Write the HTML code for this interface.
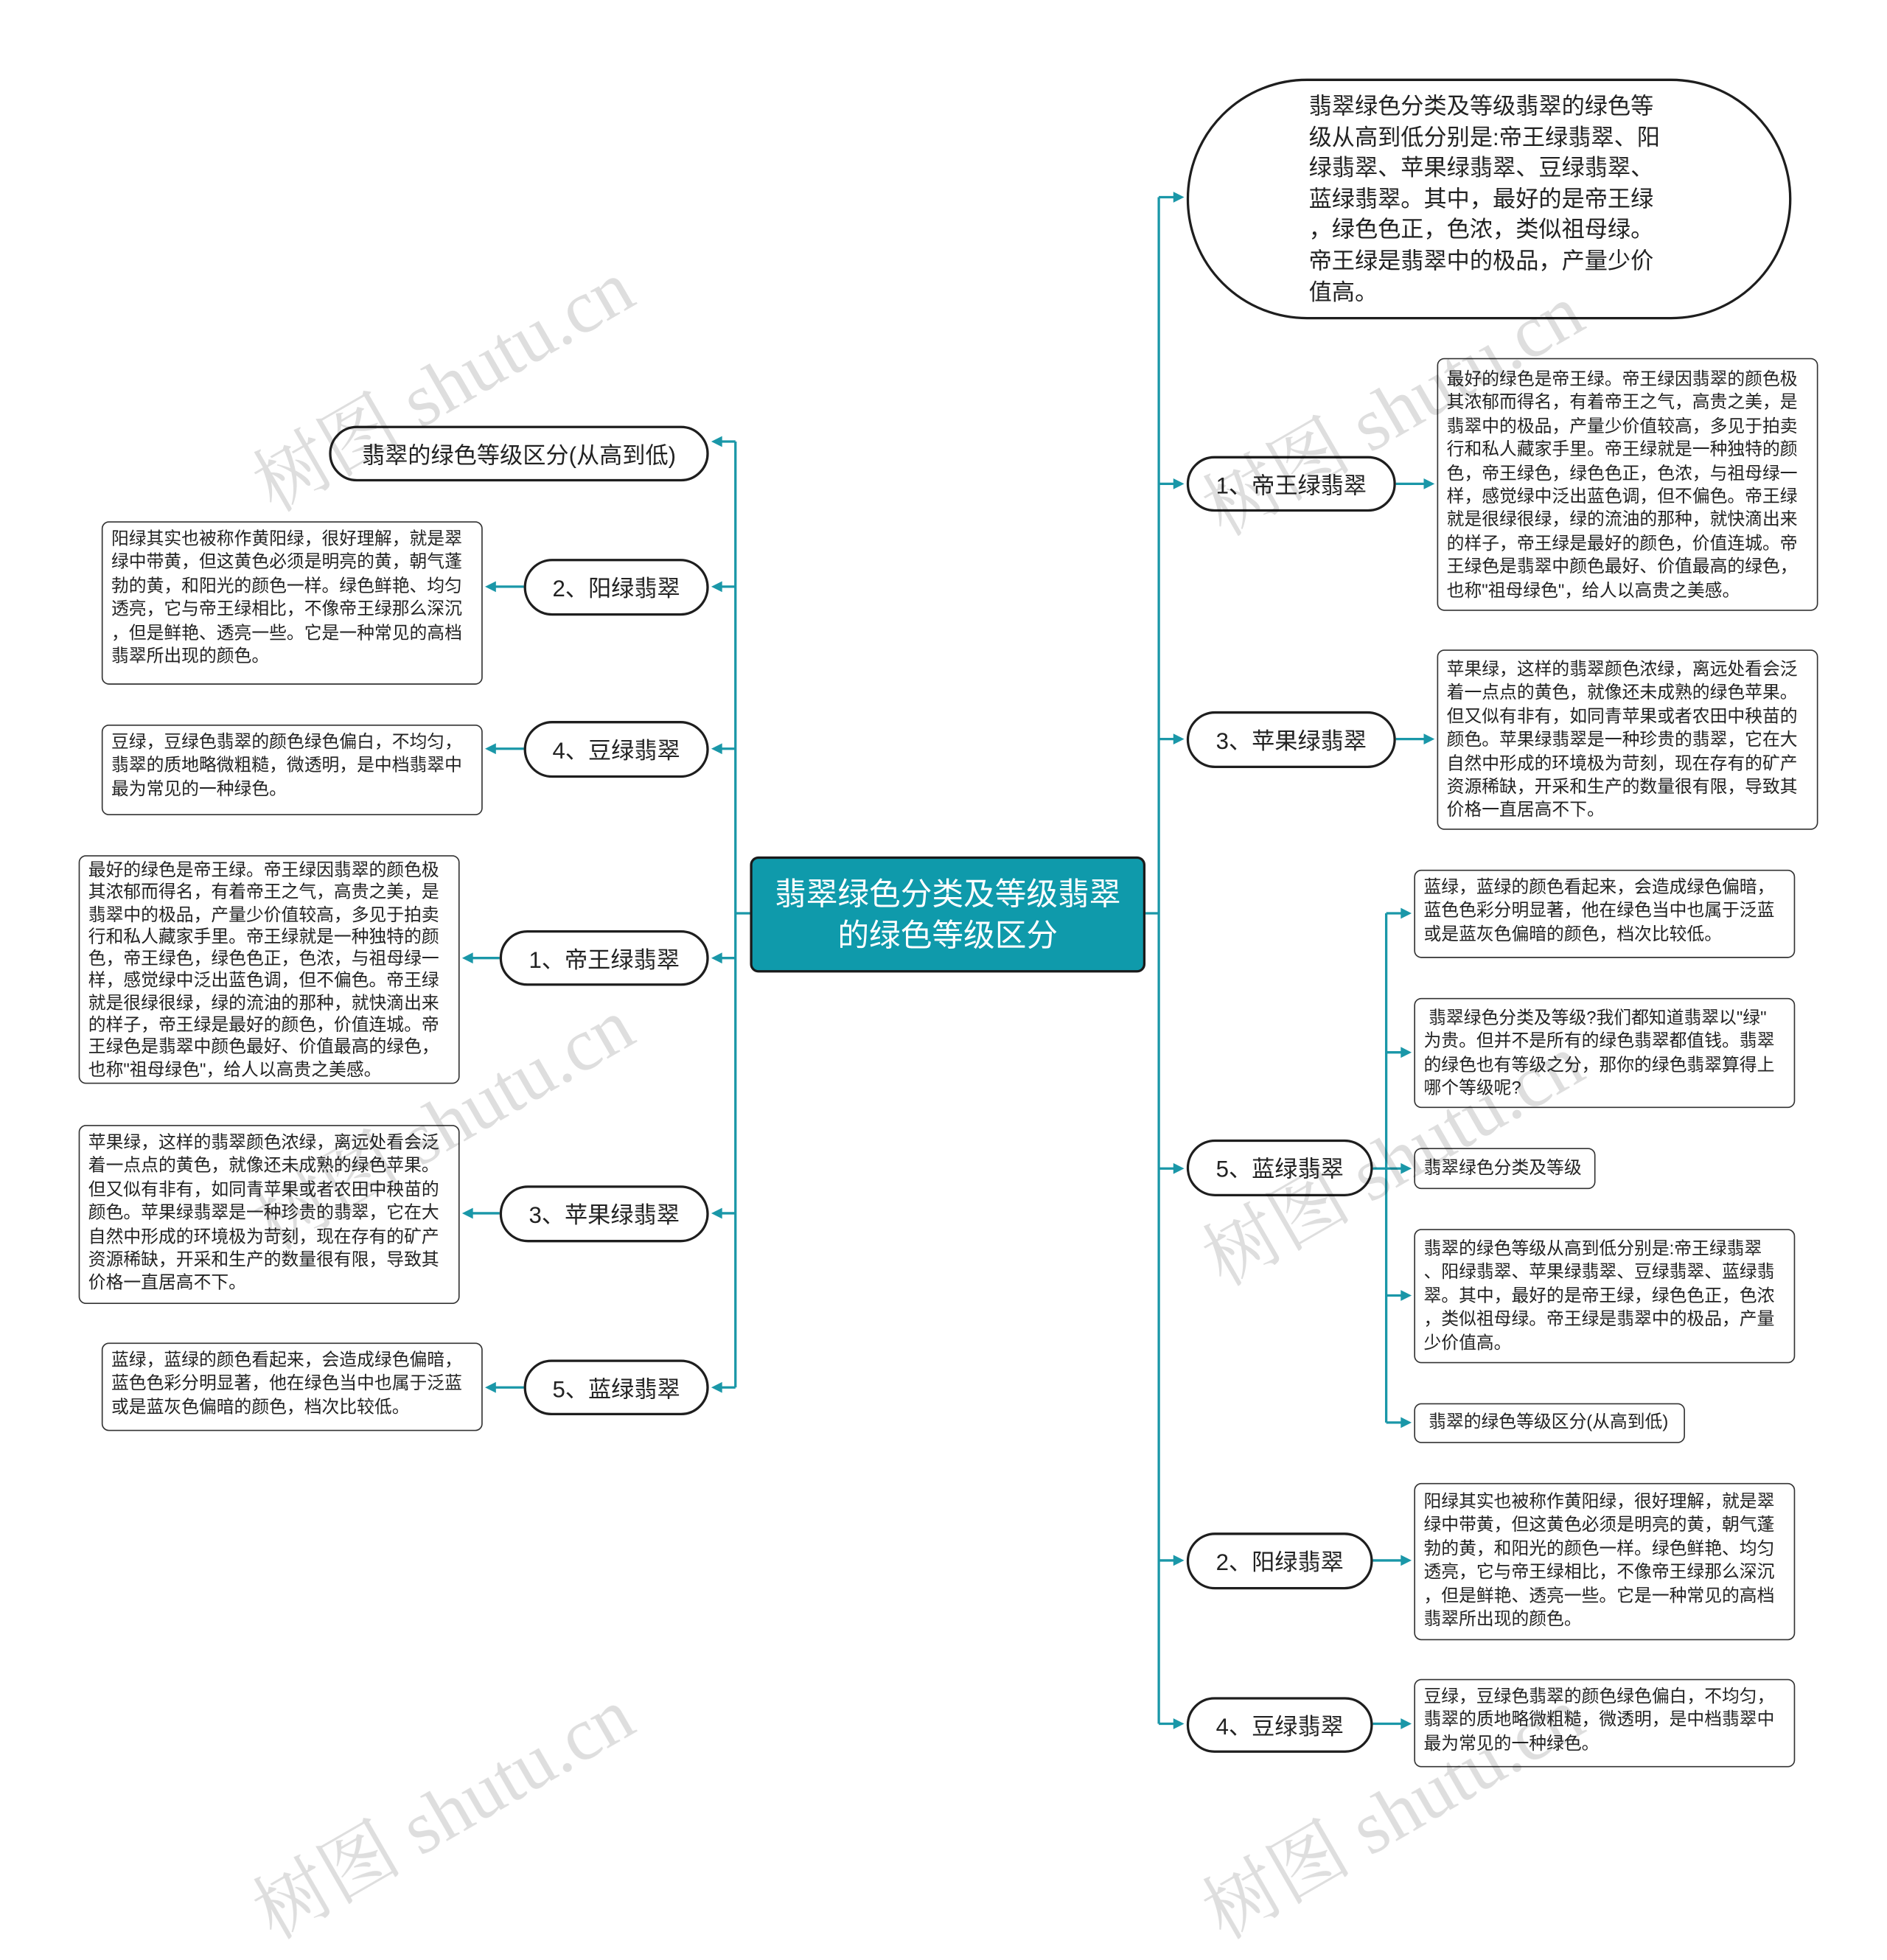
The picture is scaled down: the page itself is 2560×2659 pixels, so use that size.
<!DOCTYPE html>
<html><head><meta charset="utf-8">
<style>
html,body{margin:0;padding:0;background:#fff;}
body{width:2560px;height:2491px;overflow:hidden;position:relative;}
#c{position:absolute;left:0;top:0;width:1560px;height:1518px;transform:scale(1.641026);transform-origin:0 0;font-family:"Liberation Sans","Noto Sans CJK SC",sans-serif;color:#222;}
.pill{position:absolute;box-sizing:border-box;border:2.5px solid #1e1e1e;border-radius:30px;background:#fff;display:flex;align-items:center;justify-content:center;font-size:19px;white-space:nowrap;}
.box{position:absolute;box-sizing:border-box;border:1.2px solid #333;border-radius:6px;background:#fff;font-size:14.5px;line-height:19.4px;padding:5px 0 0 7px;white-space:nowrap;overflow:hidden;}
.root{position:absolute;left:620px;top:708px;width:327px;height:96px;box-sizing:border-box;border:2.5px solid #1a1a1a;border-radius:7px;background:#0f9aab;color:#fff;font-size:26px;line-height:34px;text-align:center;padding-top:12px;}
.big{position:absolute;left:981px;top:65px;width:500px;height:199px;box-sizing:border-box;border:2.5px solid #1e1e1e;border-radius:100px;background:#fff;font-size:19px;line-height:25.6px;padding:9px 0 0 99px;white-space:nowrap;}
.wm{position:absolute;font-family:"Liberation Serif","Noto Serif CJK SC",serif;font-size:62px;color:rgba(0,0,0,0.13);transform:rotate(-30deg);white-space:nowrap;transform-origin:center;}
svg{position:absolute;left:0;top:0;}
</style></head><body>
<div id="c">
<svg width="1560" height="1518" viewBox="0 0 1560 1518">
<g stroke="#1a97a8" stroke-width="2" fill="none">
<path d="M620 755 H608 M608 365 V1147 M608 365 H594 M608 485 H594 M608 619 H594 M608 792 H594 M608 1003 H594 M608 1147 H594"/>
<path d="M433 485 H405 M433 619 H405 M413 792 H386 M413 1003 H386 M433 1147 H405"/>
<path d="M947 755 H958 M958 163 V1425 M958 163 H972 M958 400 H972 M958 611 H972 M958 966 H972 M958 1290 H972 M958 1425 H972"/>
<path d="M1154 400 H1180 M1154 611 H1180 M1135 1290 H1160 M1135 1425 H1160"/>
<path d="M1135 966 H1146 M1146 755 V1176 M1146 755 H1160 M1146 870 H1160 M1146 966 H1160 M1146 1071 H1160 M1146 1176 H1160"/>
</g>
<g fill="#1a97a8">
<path d="M588 365 l9 -4.5 v9z"/><path d="M588 485 l9 -4.5 v9z"/><path d="M588 619 l9 -4.5 v9z"/><path d="M588 792 l9 -4.5 v9z"/><path d="M588 1003 l9 -4.5 v9z"/><path d="M588 1147 l9 -4.5 v9z"/>
<path d="M401 485 l9 -4.5 v9z"/><path d="M401 619 l9 -4.5 v9z"/><path d="M382 792 l9 -4.5 v9z"/><path d="M382 1003 l9 -4.5 v9z"/><path d="M401 1147 l9 -4.5 v9z"/>
<path d="M979 163 l-9 -4.5 v9z"/><path d="M979 400 l-9 -4.5 v9z"/><path d="M979 611 l-9 -4.5 v9z"/><path d="M979 966 l-9 -4.5 v9z"/><path d="M979 1290 l-9 -4.5 v9z"/><path d="M979 1425 l-9 -4.5 v9z"/>
<path d="M1186 400 l-9 -4.5 v9z"/><path d="M1186 611 l-9 -4.5 v9z"/><path d="M1167 1290 l-9 -4.5 v9z"/><path d="M1167 1425 l-9 -4.5 v9z"/>
<path d="M1167 755 l-9 -4.5 v9z"/><path d="M1167 870 l-9 -4.5 v9z"/><path d="M1167 966 l-9 -4.5 v9z"/><path d="M1167 1071 l-9 -4.5 v9z"/><path d="M1167 1176 l-9 -4.5 v9z"/>
</g>
</svg>

<div class="root">翡翠绿色分类及等级翡翠<br>的绿色等级区分</div>

<div class="pill" style="left:272px;top:352px;width:314px;height:46px;">翡翠的绿色等级区分(从高到低)</div>
<div class="pill" style="left:433px;top:462px;width:153px;height:47px;">2、阳绿翡翠</div>
<div class="box" style="left:84px;top:431px;width:315px;height:135px;">阳绿其实也被称作黄阳绿，很好理解，就是翠<br>绿中带黄，但这黄色必须是明亮的黄，朝气蓬<br>勃的黄，和阳光的颜色一样。绿色鲜艳、均匀<br>透亮，它与帝王绿相比，不像帝王绿那么深沉<br>，但是鲜艳、透亮一些。它是一种常见的高档<br>翡翠所出现的颜色。</div>
<div class="pill" style="left:433px;top:596px;width:153px;height:47px;">4、豆绿翡翠</div>
<div class="box" style="left:84px;top:599px;width:315px;height:75px;">豆绿，豆绿色翡翠的颜色绿色偏白，不均匀，<br>翡翠的质地略微粗糙，微透明，是中档翡翠中<br>最为常见的一种绿色。</div>
<div class="pill" style="left:413px;top:769px;width:173px;height:46px;">1、帝王绿翡翠</div>
<div class="box" style="left:65px;top:707px;width:315px;height:189px;line-height:18.3px;padding-top:3px;">最好的绿色是帝王绿。帝王绿因翡翠的颜色极<br>其浓郁而得名，有着帝王之气，高贵之美，是<br>翡翠中的极品，产量少价值较高，多见于拍卖<br>行和私人藏家手里。帝王绿就是一种独特的颜<br>色，帝王绿色，绿色色正，色浓，与祖母绿一<br>样，感觉绿中泛出蓝色调，但不偏色。帝王绿<br>就是很绿很绿，绿的流油的那种，就快滴出来<br>的样子，帝王绿是最好的颜色，价值连城。帝<br>王绿色是翡翠中颜色最好、价值最高的绿色，<br>也称"祖母绿色"，给人以高贵之美感。</div>
<div class="pill" style="left:413px;top:980px;width:173px;height:47px;">3、苹果绿翡翠</div>
<div class="box" style="left:65px;top:930px;width:315px;height:148px;">苹果绿，这样的翡翠颜色浓绿，离远处看会泛<br>着一点点的黄色，就像还未成熟的绿色苹果。<br>但又似有非有，如同青苹果或者农田中秧苗的<br>颜色。苹果绿翡翠是一种珍贵的翡翠，它在大<br>自然中形成的环境极为苛刻，现在存有的矿产<br>资源稀缺，开采和生产的数量很有限，导致其<br>价格一直居高不下。</div>
<div class="pill" style="left:433px;top:1124px;width:153px;height:46px;">5、蓝绿翡翠</div>
<div class="box" style="left:84px;top:1110px;width:315px;height:73px;">蓝绿，蓝绿的颜色看起来，会造成绿色偏暗，<br>蓝色色彩分明显著，他在绿色当中也属于泛蓝<br>或是蓝灰色偏暗的颜色，档次比较低。</div>

<div class="big">翡翠绿色分类及等级翡翠的绿色等<br>级从高到低分别是:帝王绿翡翠、阳<br>绿翡翠、苹果绿翡翠、豆绿翡翠、<br>蓝绿翡翠。其中，最好的是帝王绿<br>，绿色色正，色浓，类似祖母绿。<br>帝王绿是翡翠中的极品，产量少价<br>值高。</div>
<div class="pill" style="left:981px;top:377px;width:173px;height:46px;">1、帝王绿翡翠</div>
<div class="box" style="left:1188px;top:296px;width:315px;height:209px;padding-top:8px;">最好的绿色是帝王绿。帝王绿因翡翠的颜色极<br>其浓郁而得名，有着帝王之气，高贵之美，是<br>翡翠中的极品，产量少价值较高，多见于拍卖<br>行和私人藏家手里。帝王绿就是一种独特的颜<br>色，帝王绿色，绿色色正，色浓，与祖母绿一<br>样，感觉绿中泛出蓝色调，但不偏色。帝王绿<br>就是很绿很绿，绿的流油的那种，就快滴出来<br>的样子，帝王绿是最好的颜色，价值连城。帝<br>王绿色是翡翠中颜色最好、价值最高的绿色，<br>也称"祖母绿色"，给人以高贵之美感。</div>
<div class="pill" style="left:981px;top:588px;width:173px;height:47px;">3、苹果绿翡翠</div>
<div class="box" style="left:1188px;top:537px;width:315px;height:149px;padding-top:7px;">苹果绿，这样的翡翠颜色浓绿，离远处看会泛<br>着一点点的黄色，就像还未成熟的绿色苹果。<br>但又似有非有，如同青苹果或者农田中秧苗的<br>颜色。苹果绿翡翠是一种珍贵的翡翠，它在大<br>自然中形成的环境极为苛刻，现在存有的矿产<br>资源稀缺，开采和生产的数量很有限，导致其<br>价格一直居高不下。</div>
<div class="pill" style="left:981px;top:942px;width:154px;height:47px;">5、蓝绿翡翠</div>
<div class="box" style="left:1169px;top:719px;width:315px;height:73px;">蓝绿，蓝绿的颜色看起来，会造成绿色偏暗，<br>蓝色色彩分明显著，他在绿色当中也属于泛蓝<br>或是蓝灰色偏暗的颜色，档次比较低。</div>
<div class="box" style="left:1169px;top:825px;width:315px;height:91px;padding-top:7px;">&nbsp;翡翠绿色分类及等级?我们都知道翡翠以"绿"<br>为贵。但并不是所有的绿色翡翠都值钱。翡翠<br>的绿色也有等级之分，那你的绿色翡翠算得上<br>哪个等级呢?</div>
<div class="box" style="left:1169px;top:949px;width:150px;height:34px;padding-top:7px;">翡翠绿色分类及等级</div>
<div class="box" style="left:1169px;top:1016px;width:315px;height:111px;padding-top:7px;">翡翠的绿色等级从高到低分别是:帝王绿翡翠<br>、阳绿翡翠、苹果绿翡翠、豆绿翡翠、蓝绿翡<br>翠。其中，最好的是帝王绿，绿色色正，色浓<br>，类似祖母绿。帝王绿是翡翠中的极品，产量<br>少价值高。</div>
<div class="box" style="left:1169px;top:1160px;width:224px;height:33px;padding-top:6px;">&nbsp;翡翠的绿色等级区分(从高到低)</div>
<div class="pill" style="left:981px;top:1267px;width:154px;height:47px;">2、阳绿翡翠</div>
<div class="box" style="left:1169px;top:1226px;width:315px;height:130px;padding-top:6px;">阳绿其实也被称作黄阳绿，很好理解，就是翠<br>绿中带黄，但这黄色必须是明亮的黄，朝气蓬<br>勃的黄，和阳光的颜色一样。绿色鲜艳、均匀<br>透亮，它与帝王绿相比，不像帝王绿那么深沉<br>，但是鲜艳、透亮一些。它是一种常见的高档<br>翡翠所出现的颜色。</div>
<div class="pill" style="left:981px;top:1403px;width:154px;height:46px;">4、豆绿翡翠</div>
<div class="box" style="left:1169px;top:1388px;width:315px;height:73px;">豆绿，豆绿色翡翠的颜色绿色偏白，不均匀，<br>翡翠的质地略微粗糙，微透明，是中档翡翠中<br>最为常见的一种绿色。</div>

<div class="wm" style="left:190px;top:270px;">树图 shutu.cn</div>
<div class="wm" style="left:190px;top:880px;">树图 shutu.cn</div>
<div class="wm" style="left:190px;top:1450px;">树图 shutu.cn</div>
<div class="wm" style="left:975px;top:290px;">树图 shutu.cn</div>
<div class="wm" style="left:975px;top:910px;">树图 shutu.cn</div>
<div class="wm" style="left:975px;top:1450px;">树图 shutu.cn</div>
</div>
</body></html>
